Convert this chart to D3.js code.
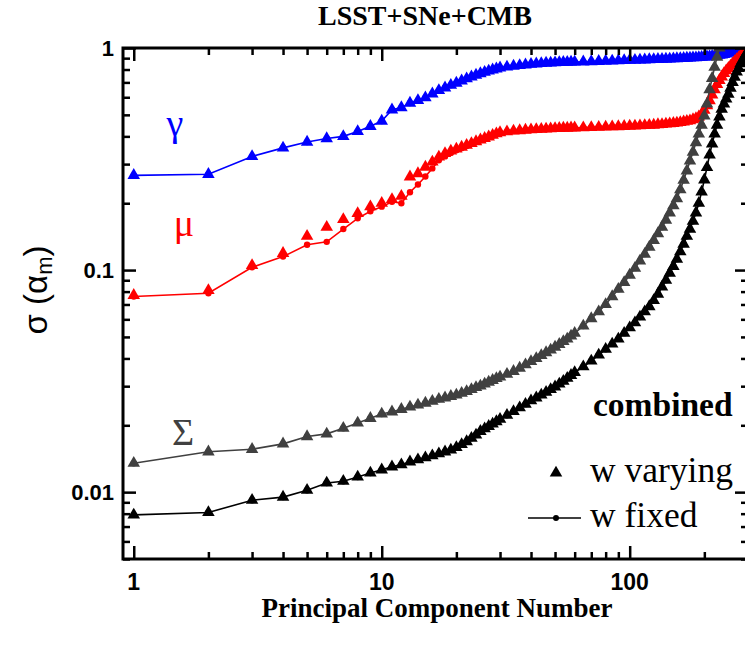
<!DOCTYPE html>
<html>
<head>
<meta charset="utf-8">
<script src="https://cdn.jsdelivr.net/npm/d3@7"></script>
<style>
  body { margin: 0; background: #fff; }
</style>
</head>
<body>
<div id="chart"></div>
<script>
const pcN = [1, 2, 3, 4, 5, 6, 7, 8, 9, 10, 11, 12, 13, 14, 15, 16, 17, 18, 19, 20,
  21, 22, 23, 24, 25, 26, 27, 28, 29, 30,
  32, 34, 36, 38, 40, 42, 44, 46, 48, 50, 52, 54, 56, 58, 60,
  65, 70, 75, 80, 85, 90, 95, 100, 105, 110, 115, 120, 125, 130, 135, 140, 145, 150,
  155, 160, 165, 170, 175, 180, 185, 190, 195, 200, 205, 210, 215, 220, 225, 230,
  235, 240, 245, 250, 255, 260, 265, 270, 275, 280, 285, 290, 295, 300]

const gammaVals = [0.267, 0.270, 0.325, 0.355, 0.377, 0.391, 0.400, 0.421, 0.444, 0.469,
  0.527, 0.539, 0.565, 0.581, 0.597, 0.622, 0.644, 0.662, 0.680, 0.695,
  0.712, 0.728, 0.742, 0.755, 0.767, 0.778, 0.788, 0.798, 0.806, 0.814,
  0.822, 0.829, 0.835, 0.840, 0.845, 0.849, 0.852, 0.855, 0.857, 0.859, 0.861, 0.862, 0.863, 0.864, 0.865,
  0.867, 0.869, 0.871, 0.873, 0.875, 0.877, 0.879, 0.881, 0.882, 0.884, 0.885, 0.887, 0.888, 0.889,
  0.891, 0.892, 0.893, 0.895, 0.896, 0.898, 0.899, 0.901, 0.902, 0.904, 0.905, 0.907, 0.909, 0.911,
  0.913, 0.915, 0.918, 0.921, 0.924, 0.928, 0.932, 0.937, 0.942, 0.948, 0.954, 0.960, 0.966, 0.972,
  0.978, 0.984, 0.989, 0.994, 0.998, 1.0]

const muVarying = [0.077, 0.081, 0.105, 0.119, 0.142, 0.156, 0.169, 0.180, 0.193, 0.200,
  0.208, 0.215, 0.263, 0.272, 0.291, 0.307, 0.323, 0.335, 0.344, 0.351,
  0.358, 0.365, 0.372, 0.379, 0.386, 0.392, 0.398, 0.405, 0.411, 0.416,
  0.420, 0.423, 0.425, 0.427, 0.429, 0.430, 0.431, 0.432, 0.433, 0.434, 0.435, 0.436, 0.436, 0.437, 0.437,
  0.438, 0.439, 0.440, 0.441, 0.442, 0.443, 0.444, 0.445, 0.446, 0.447, 0.448, 0.449, 0.450, 0.452,
  0.453, 0.455, 0.456, 0.458, 0.460, 0.462, 0.465, 0.468, 0.471, 0.476, 0.482, 0.490, 0.505, 0.525,
  0.550, 0.580, 0.615, 0.650, 0.685, 0.715, 0.742, 0.768, 0.790, 0.810, 0.830, 0.850, 0.870, 0.888,
  0.905, 0.922, 0.938, 0.952, 0.966, 0.980]

// w fixed differs from w varying only over the first 30 components
const muFixedLow = [0.076, 0.0786, 0.103, 0.115, 0.130, 0.134, 0.153, 0.171, 0.184, 0.193,
  0.203, 0.200, 0.224, 0.243, 0.264, 0.287, 0.312, 0.325, 0.337, 0.346,
  0.354, 0.362, 0.370, 0.377, 0.384, 0.390, 0.396, 0.403, 0.409, 0.414]

const sigmaVals = [0.0135, 0.0152, 0.0156, 0.0165, 0.0178, 0.0183, 0.0194, 0.0205, 0.0215, 0.0225,
  0.0230, 0.0236, 0.0242, 0.0247, 0.0252, 0.0257, 0.0262, 0.0266, 0.0270, 0.0274,
  0.0279, 0.0284, 0.0290, 0.0296, 0.0301, 0.0307, 0.0313, 0.0319, 0.0325, 0.0330,
  0.0340, 0.0350, 0.0362, 0.0375, 0.0388, 0.0400, 0.0413, 0.0425, 0.0437, 0.0450, 0.0463, 0.0477, 0.0490, 0.0505, 0.0520,
  0.0560, 0.0605, 0.0650, 0.0700, 0.0760, 0.0820, 0.0880, 0.0950, 0.1020, 0.1100, 0.1180, 0.1270, 0.1360, 0.1460,
  0.1560, 0.1680, 0.1810, 0.1950, 0.2100, 0.2300, 0.2540, 0.2800, 0.3100, 0.3400, 0.3750, 0.4100, 0.4500, 0.4950,
  0.5600, 0.6500, 0.7300, 0.8200, 0.9100, 1.0000, 1.0800]

const combinedVals = [0.0079, 0.0081, 0.0092, 0.0095, 0.0102, 0.0110, 0.0112, 0.0117, 0.0122, 0.0126,
  0.0130, 0.0133, 0.0137, 0.0140, 0.0143, 0.0146, 0.0149, 0.0152, 0.0155, 0.0159,
  0.0164, 0.0169, 0.0175, 0.0181, 0.0188, 0.0193, 0.0198, 0.0203, 0.0208, 0.0213,
  0.0222, 0.0231, 0.0240, 0.0249, 0.0258, 0.0266, 0.0274, 0.0282, 0.0290, 0.0298, 0.0307, 0.0316, 0.0326, 0.0336, 0.0346,
  0.0367, 0.0390, 0.0415, 0.0440, 0.0465, 0.0490, 0.0520, 0.0550, 0.0580, 0.0615, 0.0650, 0.0685, 0.0730, 0.0780,
  0.0840, 0.0900, 0.0970, 0.1040, 0.1120, 0.1210, 0.1310, 0.1420, 0.1530, 0.1660, 0.1810, 0.2000, 0.2250, 0.2550,
  0.2900, 0.3300, 0.3700, 0.4100, 0.4500, 0.4900, 0.5300, 0.5600, 0.5900, 0.6200, 0.6600, 0.7000, 0.7400, 0.7800,
  0.8100, 0.8500, 0.8800, 0.9100, 0.9400, 0.9700]

const xMajor = [1, 10, 100]
const xMinor = [2, 3, 4, 5, 6, 7, 8, 9, 20, 30, 40, 50, 60, 70, 80, 90, 200]
const yMajor = [0.01, 0.1, 1]
const yMinor = [0.005, 0.006, 0.007, 0.008, 0.009, 0.02, 0.03, 0.04, 0.05, 0.06, 0.07, 0.08, 0.09,
  0.2, 0.3, 0.4, 0.5, 0.6, 0.7, 0.8, 0.9]

const W = 745
const H = 651
const margin = { top: 48, left: 123, right: -3, bottom: 92 }
const width = W - margin.left - margin.right
const height = H - margin.top - margin.bottom

const svg = d3
  .select('#chart')
  .append('svg')
  .attr('width', W)
  .attr('height', H)

const g = svg.append('g').attr('transform', `translate(${margin.left},${margin.top})`)

const x = d3.scaleLog().domain([0.905, 300]).range([0, width])
const y = d3.scaleLog().domain([0.005, 1]).range([height, 0])

g.append('clipPath')
  .attr('id', 'plot-clip')
  .append('rect')
  .attr('width', width)
  .attr('height', height)

const toPoints = vals => vals.map((v, i) => ({ n: pcN[i], v: v }))

const series = [
  { name: 'gamma', color: '#0000ff', varying: toPoints(gammaVals), fixed: toPoints(gammaVals) },
  { name: 'mu', color: '#ff0000', varying: toPoints(muVarying), fixed: toPoints(muFixedLow.concat(muVarying.slice(muFixedLow.length))) },
  { name: 'combined', color: '#000000', varying: toPoints(combinedVals), fixed: toPoints(combinedVals) },
  { name: 'sigma', color: '#404040', varying: toPoints(sigmaVals), fixed: toPoints(sigmaVals) }
]

const line = d3
  .line()
  .x(d => x(d.n))
  .y(d => y(d.v))

const tri = d3.symbol().type(d3.symbolTriangle).size(68)

const plot = g.append('g').attr('clip-path', 'url(#plot-clip)')

series.forEach(function(s) {
  const sg = plot.append('g').attr('class', 'series-' + s.name)

  // w fixed: thin line with small dots
  sg.append('path')
    .datum(s.fixed)
    .attr('fill', 'none')
    .attr('stroke', s.color)
    .attr('stroke-width', 1.6)
    .attr('d', line)

  sg.selectAll('.dot')
    .data(s.fixed)
    .enter()
    .append('circle')
    .attr('class', 'dot')
    .attr('cx', d => x(d.n))
    .attr('cy', d => y(d.v))
    .attr('r', 3.2)
    .attr('fill', s.color)

  // w varying: triangles
  sg.selectAll('.tri')
    .data(s.varying)
    .enter()
    .append('path')
    .attr('class', 'tri')
    .attr('transform', d => `translate(${x(d.n)},${y(d.v)})`)
    .attr('d', tri)
    .attr('fill', s.color)
})

// axes: ticks point inward on all four sides
function tickAxis(axisFn, scale, values, size) {
  return axisFn(scale).tickValues(values).tickSize(size).tickFormat('')
}

const axes = g.append('g').attr('class', 'axes')

axes.append('g').attr('transform', `translate(0,${height})`).call(tickAxis(d3.axisBottom, x, xMajor, -13))
axes.append('g').attr('transform', `translate(0,${height})`).call(tickAxis(d3.axisBottom, x, xMinor, -7))
axes.append('g').call(tickAxis(d3.axisTop, x, xMajor, -13))
axes.append('g').call(tickAxis(d3.axisTop, x, xMinor, -7))
axes.append('g').call(tickAxis(d3.axisLeft, y, yMajor, -13))
axes.append('g').call(tickAxis(d3.axisLeft, y, yMinor, -7))
axes.append('g').attr('transform', `translate(${width},0)`).call(tickAxis(d3.axisRight, y, yMajor, -13))
axes.append('g').attr('transform', `translate(${width},0)`).call(tickAxis(d3.axisRight, y, yMinor, -7))

axes.selectAll('.domain').remove()
axes.selectAll('.tick line').attr('stroke', '#000').attr('stroke-width', 2.5)

g.append('rect')
  .attr('width', width)
  .attr('height', height)
  .attr('fill', 'none')
  .attr('stroke', '#000')
  .attr('stroke-width', 3)

// tick labels
const sans = '"Liberation Sans", Arial, sans-serif'
const serif = '"Liberation Serif", "Times New Roman", serif'

g.selectAll('.xlab')
  .data(xMajor)
  .enter()
  .append('text')
  .attr('x', d => x(d))
  .attr('y', height + 31)
  .attr('text-anchor', 'middle')
  .attr('font-family', sans)
  .attr('font-weight', 'bold')
  .attr('font-size', 23)
  .text(d => d)

g.selectAll('.ylab')
  .data(yMajor)
  .enter()
  .append('text')
  .attr('x', -9)
  .attr('y', d => y(d) + 8)
  .attr('text-anchor', 'end')
  .attr('font-family', sans)
  .attr('font-weight', 'bold')
  .attr('font-size', 22)
  .text(d => d)

// titles
svg.append('text')
  .attr('x', 425)
  .attr('y', 25)
  .attr('text-anchor', 'middle')
  .attr('font-family', serif)
  .attr('font-weight', 'bold')
  .attr('font-size', 28)
  .text('LSST+SNe+CMB')

svg.append('text')
  .attr('x', 437)
  .attr('y', 617)
  .attr('text-anchor', 'middle')
  .attr('font-family', serif)
  .attr('font-weight', 'bold')
  .attr('font-size', 27)
  .text('Principal Component Number')

const yTitle = svg.append('text')
  .attr('transform', 'translate(47,290) rotate(-90)')
  .attr('text-anchor', 'middle')
  .attr('font-family', sans)
  .attr('font-size', 33)
yTitle.append('tspan').text('σ (α')
yTitle.append('tspan').attr('font-size', 22).attr('dy', 5).text('m')
yTitle.append('tspan').attr('dy', -5).text(')')

// parameter labels
const greek = [
  { t: 'γ', x: 175, y: 136, c: '#0000ff' },
  { t: 'μ', x: 184, y: 236, c: '#ff0000' },
  { t: 'Σ', x: 183, y: 445, c: '#404040' }
]

svg.selectAll('.greek')
  .data(greek)
  .enter()
  .append('text')
  .attr('x', d => d.x)
  .attr('y', d => d.y)
  .attr('text-anchor', 'middle')
  .attr('font-family', serif)
  .attr('font-size', 38)
  .attr('fill', d => d.c)
  .text(d => d.t)

// legend
svg.append('text')
  .attr('x', 593)
  .attr('y', 416)
  .attr('font-family', serif)
  .attr('font-weight', 'bold')
  .attr('font-size', 33.5)
  .text('combined')

svg.append('path')
  .attr('transform', 'translate(556,473)')
  .attr('d', tri)
  .attr('fill', '#000')

svg.append('text')
  .attr('x', 590)
  .attr('y', 482)
  .attr('font-family', serif)
  .attr('font-size', 35.5)
  .text('w varying')

svg.append('line')
  .attr('x1', 528)
  .attr('x2', 581)
  .attr('y1', 518)
  .attr('y2', 518)
  .attr('stroke', '#000')
  .attr('stroke-width', 1.6)

svg.append('circle')
  .attr('cx', 556)
  .attr('cy', 518)
  .attr('r', 3)
  .attr('fill', '#000')

svg.append('text')
  .attr('x', 590)
  .attr('y', 527)
  .attr('font-family', serif)
  .attr('font-size', 35.5)
  .text('w fixed')
</script>
</body>
</html>
